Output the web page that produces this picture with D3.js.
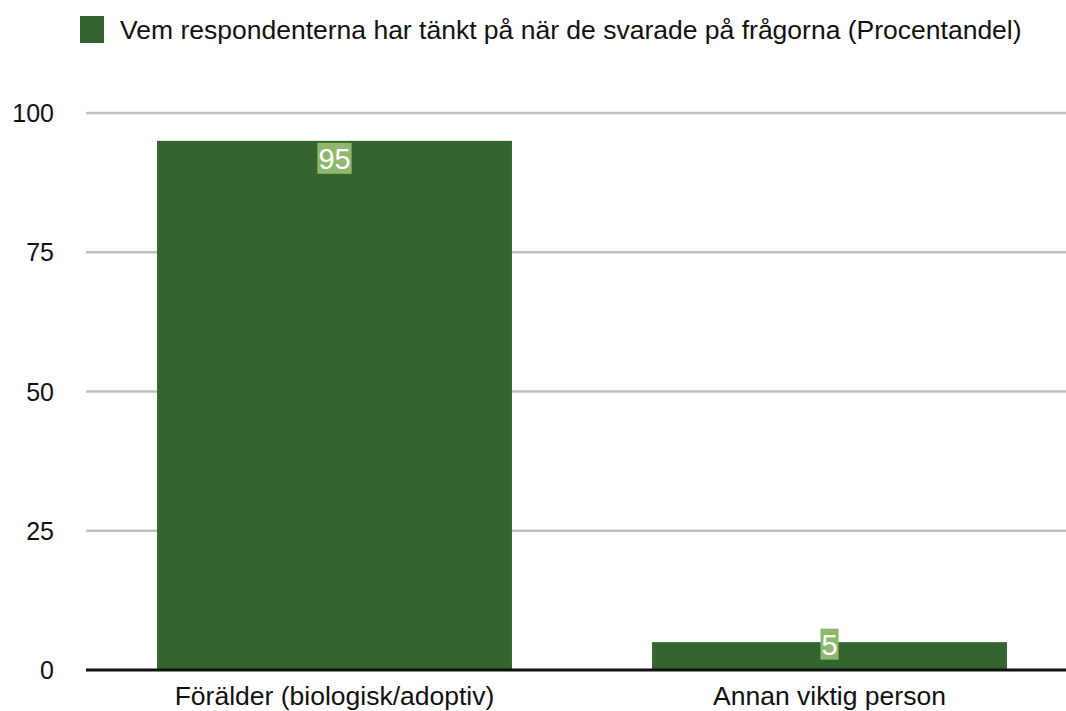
<!DOCTYPE html>
<html>
  <head>
    <meta charset="utf-8">
    <title>Vem respondenterna har tänkt på</title>
    <style>
      body { margin: 0; background: #fff; }
      svg text { font-family: "Liberation Sans", Arial, Helvetica, sans-serif; }
    </style>
  </head>
  <body>
    <div id="chart"></div>
    <script src="https://cdn.jsdelivr.net/npm/d3@7"></script>
    <script>
      var categories = ['Förälder (biologisk/adoptiv)', 'Annan viktig person'];
      var values = [95, 5];
      var tickValues = [0, 25, 50, 75, 100];
      var seriesName = 'Vem respondenterna har tänkt på när de svarade på frågorna (Procentandel)';

      (function(d3) {
        'use strict';
        var width = 1066;
        var height = 711;
        var barColor = '#35652f';
        var labelBg = '#8fb86f';

        var svg = d3.select('#chart')
          .append('svg')
          .attr('width', width)
          .attr('height', height);

        var y = d3.scaleLinear().domain([0, 100]).range([670, 113]);
        var x = d3.scaleBand()
          .domain(categories)
          .range([87, 1077])
          .paddingInner(0.283)
          .paddingOuter(0.1415);

        // legend
        var legend = svg.append('g');
        legend.append('rect')
          .attr('x', 80).attr('y', 16)
          .attr('width', 24).attr('height', 27)
          .attr('fill', barColor);
        legend.append('text')
          .attr('x', 120).attr('y', 39)
          .attr('font-size', 26.5)
          .attr('fill', '#111')
          .text(seriesName);

        // gridlines
        svg.append('g').selectAll('line')
          .data(tickValues.filter(function(t) { return t > 0; }))
          .enter().append('line')
          .attr('x1', 86).attr('x2', 1066)
          .attr('y1', function(d) { return y(d); })
          .attr('y2', function(d) { return y(d); })
          .attr('stroke', '#c0c0c0')
          .attr('stroke-width', 2.5);

        // y tick labels
        svg.append('g').selectAll('text')
          .data(tickValues)
          .enter().append('text')
          .attr('x', 54)
          .attr('y', function(d) { return y(d); })
          .attr('dy', '0.36em')
          .attr('text-anchor', 'end')
          .attr('font-size', 25)
          .attr('fill', '#111')
          .text(function(d) { return d; });

        // bars
        svg.append('g').selectAll('rect')
          .data(values)
          .enter().append('rect')
          .attr('x', function(d, i) { return x(categories[i]); })
          .attr('y', function(d) { return y(d); })
          .attr('width', x.bandwidth())
          .attr('height', function(d) { return y(0) - y(d); })
          .attr('fill', barColor);

        // baseline
        svg.append('line')
          .attr('x1', 86).attr('x2', 1066)
          .attr('y1', y(0)).attr('y2', y(0))
          .attr('stroke', '#111')
          .attr('stroke-width', 3);

        // category labels
        svg.append('g').selectAll('text')
          .data(categories)
          .enter().append('text')
          .attr('x', function(d) { return x(d) + x.bandwidth() / 2; })
          .attr('y', 705)
          .attr('text-anchor', 'middle')
          .attr('font-size', 26.5)
          .attr('fill', '#111')
          .text(function(d) { return d; });

        // value labels
        var boxH = 31;
        var labels = svg.append('g').selectAll('g')
          .data(values)
          .enter().append('g')
          .attr('transform', function(d, i) {
            var cx = x(categories[i]) + x.bandwidth() / 2;
            var barH = y(0) - y(d);
            var top = barH > boxH + 6 ? y(d) + 2 : y(d) - boxH / 2 + 2;
            return 'translate(' + cx + ',' + top + ')';
          });
        labels.append('text')
          .attr('y', boxH / 2)
          .attr('dy', '0.36em')
          .attr('text-anchor', 'middle')
          .attr('font-size', 29)
          .attr('fill', '#fff')
          .text(function(d) { return d; });
        labels.each(function() {
          var g = d3.select(this);
          var bb = g.select('text').node().getBBox();
          g.insert('rect', 'text')
            .attr('x', bb.x - 1)
            .attr('y', 0)
            .attr('width', bb.width + 2)
            .attr('height', boxH)
            .attr('fill', labelBg);
        });
      })(window.d3);
    </script>
  </body>
</html>
